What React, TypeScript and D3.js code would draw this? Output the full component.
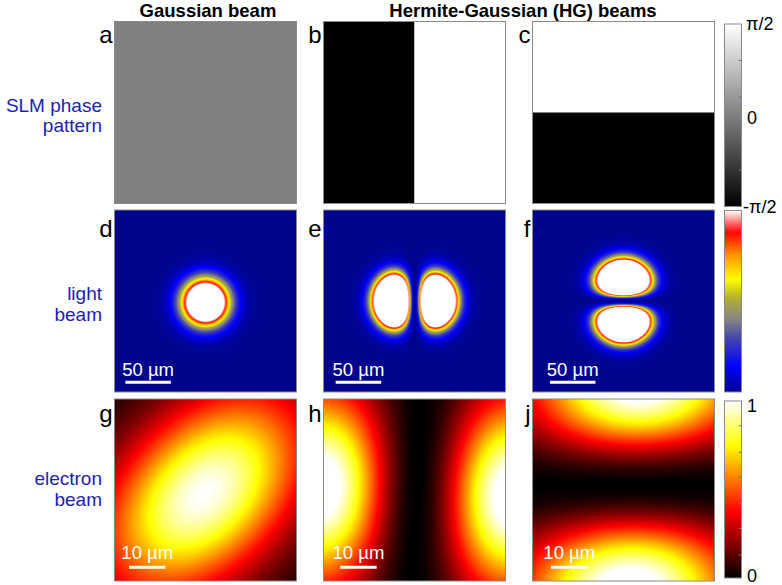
import React, { useMemo } from "react";
import * as d3 from "d3";

// text
const columnTitles = ["Gaussian beam", "Hermite-Gaussian (HG) beams"];
const rowLabels = [["SLM phase", "pattern"], ["light", "beam"], ["electron", "beam"]];
const panelLetters = [["a", "b", "c"], ["d", "e", "f"], ["g", "h", "j"]];

// SLM phase patterns (rad), one cell per segment
const phaseA = [[0]];
const phaseB = [[-Math.PI / 2, Math.PI / 2]];
const phaseC = [[Math.PI / 2], [-Math.PI / 2]];

// HG mode order [m, n] for the three columns
const modeOrder = [[0, 0], [1, 0], [0, 1]];

// light beam at the SLM (µm, y pointing down)
const lightCenterX = [0, 0.3, 0];
const lightCenterY = [1.5, 0, 0];
const lightWaist = [32.8, 32, 32];
const lightPeak = [2.23, 4.9, 4.9];

// electron beam (µm, y pointing down)
const elecCenterX = [-0.4, 0.7, 3.1];
const elecCenterY = [1.0, 0.4, -1.2];
const elecWaistX = [47, 38, 41];
const elecWaistY = [30, 38, 41];
const elecAngle = [-45, 2.5, 0];
const elecShear = [0, 0, -0.053];
const elecPeak = [1, 1.1, 1.1];

// colour maps
const lightStops = [0, 0.14, 0.3, 0.4, 0.52, 0.62, 0.75, 0.88, 1];
const lightColors = ["#00048c", "#0000ff", "#4848a8", "#858585", "#b5b030", "#ffff00", "#ff9a00", "#ff0000", "#ffffff"];
const hotStops = [0, 0.375, 0.75, 1];
const hotColors = ["#000000", "#ff0000", "#ffff00", "#ffffff"];

// colorbar ticks / labels
const phaseTicks = [-0.3, -0.1, 0.1, 0.3].map(k => k * Math.PI);
const phaseTickLabels = ["π/2", "0", "-π/2"];
const hotTicks = [0.86, 0.71, 0.57, 0.42, 0.28, 0.13];
const hotTickLabels = ["1", "0"];

// field of view and scale bars (µm)
const lightSpan = [-100, 100];
const elecSpan = [-25, 25];
const lightBar = 50;
const elecBar = 10;
const lightBarStart = [-88.1, -86.6, -80.8];
const elecBarStart = [-21, -20.4, -19.9];

// layout
const W = 782, H = 585;
const SIZE = 182;
const SS = 2; // canvas supersampling
const colLeft = [114.5, 323.5, 532.5];
const rowTop = [21.5, 210, 399];
const cbX = 724.5, cbW = 17;
const cbTop = [24, 210.5, 401];
const cbBottom = [206.5, 392, 578];
const FONT = "'Liberation Sans', Arial, Helvetica, sans-serif";
const BLUE = "#2222b0";

function modeIntensity(dx: number, dy: number, m: number, n: number, wx: number, wy: number,
  angle: number, shear: number, peak: number) {
  const t = angle * Math.PI / 180;
  let u = Math.cos(t) * dx + Math.sin(t) * dy;
  const v = -Math.sin(t) * dx + Math.cos(t) * dy;
  u = u - shear * v;
  const a = u / wx, b = v / wy;
  let I = Math.exp(-2 * (a * a + b * b));
  if (m === 1) I *= 2 * Math.E * a * a;
  if (n === 1) I *= 2 * Math.E * b * b;
  return peak * I;
}

function fieldImage(span: number[], f: (x: number, y: number) => number, color: (v: number) => string) {
  const N = SIZE * SS;
  const s = d3.scaleLinear().domain(span).range([0, N]);
  const cv = document.createElement("canvas");
  cv.width = N; cv.height = N;
  const ctx = cv.getContext("2d")!;
  const img = ctx.createImageData(N, N);
  for (let j = 0; j < N; j++) {
    for (let i = 0; i < N; i++) {
      const c = d3.rgb(color(f(s.invert(i + 0.5), s.invert(j + 0.5))));
      const k = (j * N + i) * 4;
      img.data[k] = c.r; img.data[k + 1] = c.g; img.data[k + 2] = c.b; img.data[k + 3] = 255;
    }
  }
  ctx.putImageData(img, 0, 0);
  return cv.toDataURL();
}

export default function App() {
  const grayScale = d3.scaleLinear<string>().domain([-Math.PI / 2, Math.PI / 2])
    .range(["#000000", "#ffffff"]).interpolate(d3.interpolateRgb).clamp(true);
  const lightScale = d3.scaleLinear<string>().domain(lightStops).range(lightColors)
    .interpolate(d3.interpolateRgb).clamp(true);
  const hotScale = d3.scaleLinear<string>().domain(hotStops).range(hotColors)
    .interpolate(d3.interpolateRgb).clamp(true);

  const images = useMemo(() => {
    const light = modeOrder.map(([m, n], i) => fieldImage(lightSpan,
      (x, y) => modeIntensity(x - lightCenterX[i], y - lightCenterY[i], m, n,
        lightWaist[i], lightWaist[i], 0, 0, lightPeak[i]), lightScale));
    const elec = modeOrder.map(([m, n], i) => fieldImage(elecSpan,
      (x, y) => modeIntensity(x - elecCenterX[i], y - elecCenterY[i], m, n,
        elecWaistX[i], elecWaistY[i], elecAngle[i], elecShear[i], elecPeak[i]), hotScale));
    return { light, elec };
  }, []);

  const phases = [phaseA, phaseB, phaseC];
  const gradStops = d3.range(0, 1.0001, 1 / 40);
  const phaseY = d3.scaleLinear().domain([-Math.PI / 2, Math.PI / 2]).range([cbBottom[0], cbTop[0]]);
  const hotY = d3.scaleLinear().domain([0, 1]).range([cbBottom[2], cbTop[2]]);

  const border = (x: number, y: number, key: string) => (
    <rect key={key} x={x} y={y} width={SIZE} height={SIZE} fill="none" stroke="#8a8a8a" strokeWidth={1} />
  );

  return (
    <svg width={W} height={H} style={{ position: "absolute", left: 0, top: 0, background: "#fff" }}
      fontFamily={FONT}>
      <defs>
        {[grayScale.copy().domain([0, 1]), lightScale.copy().domain(lightStops), hotScale.copy().domain(hotStops)].map((sc, k) => (
          <linearGradient key={k} id={"cb" + k} x1="0" y1="1" x2="0" y2="0">
            {gradStops.map(t => <stop key={t} offset={t} stopColor={sc(t)} />)}
          </linearGradient>
        ))}
      </defs>

      {/* column titles */}
      <text x={208} y={16.5} textAnchor="middle" fontSize={18.5} fontWeight="bold">{columnTitles[0]}</text>
      <text x={523} y={16.5} textAnchor="middle" fontSize={18.5} fontWeight="bold">{columnTitles[1]}</text>

      {/* row labels */}
      {[[112, 132], [300, 321], [485, 506]].map((ys, r) => (
        <g key={r} fill={BLUE} fontSize={19} textAnchor="end">
          {ys.map((y, k) => <text key={k} x={102} y={y}>{rowLabels[r][k]}</text>)}
        </g>
      ))}

      {/* row 1: SLM phase */}
      {phases.map((P, c) => {
        const xb = d3.scaleBand<number>().domain(d3.range(P[0].length)).range([colLeft[c], colLeft[c] + SIZE]);
        const yb = d3.scaleBand<number>().domain(d3.range(P.length)).range([rowTop[0], rowTop[0] + SIZE]);
        return (
          <g key={"p" + c}>
            {P.map((row, r) => row.map((v, q) => (
              <rect key={r + "-" + q} x={xb(q)} y={yb(r)} width={xb.bandwidth()} height={yb.bandwidth()} fill={grayScale(v)} />
            )))}
            {border(colLeft[c], rowTop[0], "b")}
          </g>
        );
      })}

      {/* row 2: light */}
      {images.light.map((href, c) => {
        const xs = d3.scaleLinear().domain(lightSpan).range([colLeft[c], colLeft[c] + SIZE]);
        const ys = d3.scaleLinear().domain(lightSpan).range([rowTop[1], rowTop[1] + SIZE]);
        const x0 = xs(lightBarStart[c]), x1 = xs(lightBarStart[c] + lightBar), yb = ys(89.3);
        return (
          <g key={"l" + c}>
            <image href={href} x={colLeft[c]} y={rowTop[1]} width={SIZE} height={SIZE} />
            {border(colLeft[c], rowTop[1], "b")}
            <line x1={x0} x2={x1} y1={yb} y2={yb} stroke="#fff" strokeWidth={3} />
            <text x={(x0 + x1) / 2} y={yb - 6.6} textAnchor="middle" fill="#fff" fontSize={18.5}>{lightBar} µm</text>
          </g>
        );
      })}

      {/* row 3: electron */}
      {images.elec.map((href, c) => {
        const xs = d3.scaleLinear().domain(elecSpan).range([colLeft[c], colLeft[c] + SIZE]);
        const ys = d3.scaleLinear().domain(elecSpan).range([rowTop[2], rowTop[2] + SIZE]);
        const x0 = xs(elecBarStart[c]), x1 = xs(elecBarStart[c] + elecBar), yb = ys(21.2);
        return (
          <g key={"e" + c}>
            <image href={href} x={colLeft[c]} y={rowTop[2]} width={SIZE} height={SIZE} />
            {border(colLeft[c], rowTop[2], "b")}
            <line x1={x0} x2={x1} y1={yb} y2={yb} stroke="#fff" strokeWidth={3} />
            <text x={(x0 + x1) / 2} y={yb - 8} textAnchor="middle" fill="#fff" fontSize={18.5}>{elecBar} µm</text>
          </g>
        );
      })}

      {/* panel letters */}
      {panelLetters.map((row, r) => row.map((l, c) => (
        <text key={l} x={colLeft[c] - 2} y={[43, 237, 422][r]} textAnchor="end" fontSize={24}>{l}</text>
      )))}

      {/* colorbars */}
      {[0, 1, 2].map(k => (
        <rect key={"cb" + k} x={cbX} y={cbTop[k]} width={cbW} height={cbBottom[k] - cbTop[k]}
          fill={`url(#cb${k})`} stroke="#8a8a8a" strokeWidth={1} />
      ))}
      {phaseTicks.map(t => (
        <line key={"pt" + t} x1={cbX + cbW - 3} x2={cbX + cbW} y1={phaseY(t)} y2={phaseY(t)} stroke="#777" />
      ))}
      {hotTicks.map(t => (
        <line key={"ht" + t} x1={cbX + cbW - 3} x2={cbX + cbW} y1={hotY(t)} y2={hotY(t)} stroke="#777" />
      ))}
      <g fontSize={18}>
        <text x={746} y={phaseY(Math.PI / 2) + 6}>{phaseTickLabels[0]}</text>
        <text x={747} y={phaseY(0) + 9}>{phaseTickLabels[1]}</text>
        <text x={743} y={phaseY(-Math.PI / 2) + 6.5}>{phaseTickLabels[2]}</text>
        <text x={747} y={hotY(1) + 11}>{hotTickLabels[0]}</text>
        <text x={747} y={hotY(0) + 4}>{hotTickLabels[1]}</text>
      </g>
    </svg>
  );
}
